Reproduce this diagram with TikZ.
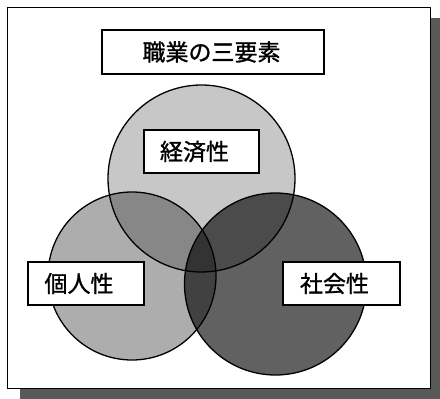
\documentclass[tikz,border=0pt]{standalone}
\usepackage{fontspec}
\newfontfamily\jp[FakeBold=1.2]{Noto Sans CJK JP}
\begin{document}
\begin{tikzpicture}[x=1pt,y=-1pt,
  lbl/.style={draw=black,line width=1.2pt,fill=white,inner sep=0pt,font=\jp\fontsize{23}{23}\selectfont},
  circ/.style={draw=black,line width=1.3pt}]
\useasboundingbox (0,0) rectangle (440,399);
% shadow
\fill[black!65] (430,18) rectangle (440,399);
\fill[black!65] (20,388) rectangle (440,399);
% frame
\draw[line width=1pt,fill=white] (7,7) rectangle (430,388);
% circles
\fill[black!22] (201.5,178.5) circle (93.5);
\begin{scope}[blend mode=multiply]
\fill[black!32] (132,276) circle (84);
\fill[black!62] (275.5,284) circle (91);
\end{scope}
\draw[circ] (201.5,178.5) circle (93.5);
\draw[circ] (132,276) circle (84);
\draw[circ] (275.5,284) circle (91);
% labels
\node[lbl,minimum width=222pt,minimum height=44pt] (title) at (213,52) {職業の三要素\hspace*{3pt}};
\node[lbl,minimum width=115pt,minimum height=43pt] (econ) at (201.5,151.5) {経済性\hspace*{14pt}};
\node[lbl,minimum width=116pt,minimum height=43pt] (indiv) at (86,283.5) {個人性\hspace*{14pt}};
\node[lbl,minimum width=117pt,minimum height=43pt] (soc) at (341.5,283.5) {社会性\hspace*{14pt}};
\end{tikzpicture}
\end{document}
